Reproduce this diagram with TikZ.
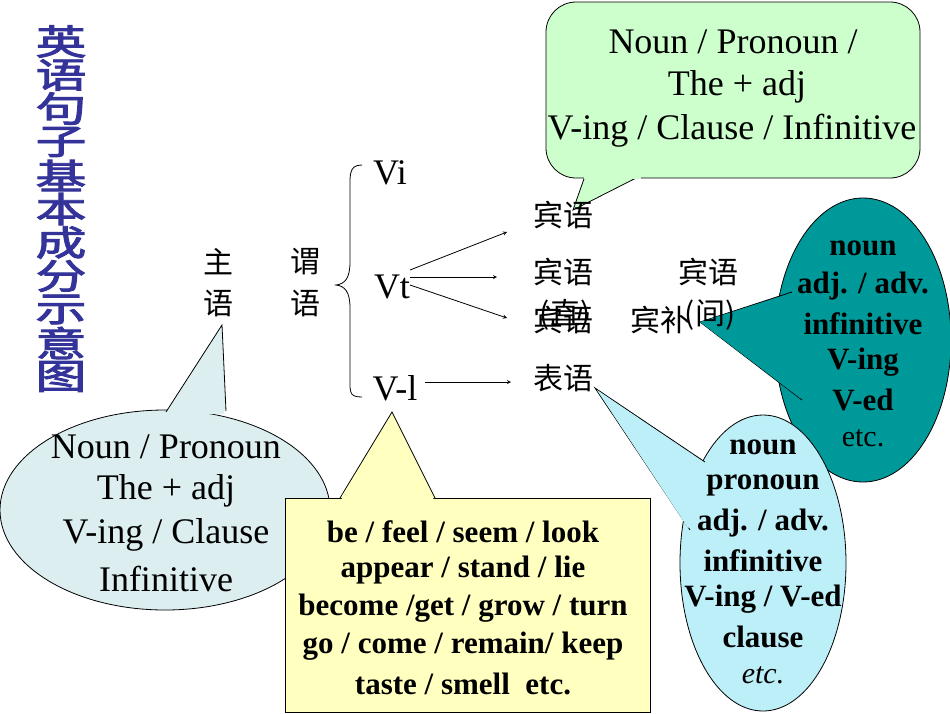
\documentclass[tikz,border=0pt]{standalone}
\usepackage{fontspec}
\setmainfont{Liberation Serif}
\newfontfamily\cjk{Noto Sans CJK SC}
\newfontfamily\cjkb[FakeBold=2.5]{Noto Sans CJK SC}
\definecolor{tgreen}{HTML}{CCFFCC}
\definecolor{tteal}{HTML}{009999}
\definecolor{tcyan}{HTML}{BDEFF9}
\definecolor{tgrey}{HTML}{DCEEF0}
\definecolor{tyel}{HTML}{FFFFC0}
\definecolor{tblue}{HTML}{333399}
\tikzset{txt/.style={inner sep=0pt,font=\fontsize{36}{36}\selectfont},
 btxt/.style={inner sep=0pt,font=\fontsize{31}{31}\selectfont\bfseries},
 zh/.style={inner sep=0pt,font=\fontsize{30}{30}\selectfont\cjk},
 arr/.style={-stealth,line width=0.8pt}}
\begin{document}
\begin{tikzpicture}[x=1pt,y=-1pt,line width=0.8pt]
\useasboundingbox (0,0) rectangle (950,713);
% title
\foreach \c [count=\i] in {英,语,句,子,基,本,成,分,示,意,图}
  \node[inner sep=0pt,text=tblue,xscale=1.45,font=\fontsize{35}{35}\selectfont\cjkb] (t\i) at (61,{8+\i*33.5}) {\c};
% green callout
\draw[fill=tgreen,rounded corners=30pt] (546,2) rectangle (920,178);
\filldraw[fill=tgreen] (585,176) -- (573,210) -- (640,176);
\fill[tgreen] (584,170) rectangle (641,178.5);
\node[txt] (g1) at (733,42) {Noun / Pronoun /};
\node[txt] (g2) at (737,87) {The + adj};
\node[txt] (g3) at (732,131) {V-ing / Clause / Infinitive};
% teal
\filldraw[fill=tteal] (863,340) ellipse [x radius=88,y radius=142];
\filldraw[fill=tteal] (792,292) -- (700,322) -- (802,400);
\fill[tteal] (790,294) -- (700,322) -- (800,398) -- (810,340) -- cycle;
\foreach \t/\y in {{noun}/248,{adj. / adv.}/286,{infinitive}/324,{V-ing}/362,{V-ed}/400}
  \node[btxt] at (863,\y) {\t};
\node[inner sep=0pt,font=\fontsize{30}{30}\selectfont] at (863,438) {etc.};
% cyan
\filldraw[fill=tcyan] (763,563) ellipse [x radius=83,y radius=148];
\filldraw[fill=tcyan] (705,462) -- (595,388) -- (690,530);
\fill[tcyan] (705,464) -- (597,390) -- (688,528) -- (720,500) -- cycle;
\foreach \t/\y in {{noun}/447,{pronoun}/485,{adj. / adv.}/523,{infinitive}/561,{V-ing / V-ed}/599,{clause}/637}
  \node[btxt] at (763,\y) {\t};
\node[inner sep=0pt,font=\fontsize{30}{30}\selectfont\itshape] at (763,675) {etc.};
% left grey
\filldraw[fill=tgrey] (165,510) ellipse [x radius=165,y radius=100];
\filldraw[fill=tgrey] (166,412) -- (222,325) -- (226,411);
\fill[tgrey] (168,414) -- (221,330) -- (224,414) -- cycle;
\node[txt] (l1) at (166,447) {Noun / Pronoun};
\node[txt] (l2) at (166,491) {The + adj};
\node[txt] (l3) at (166,535) {V-ing / Clause};
\node[txt] (l4) at (166,579) {Infinitive};
% yellow
\filldraw[fill=tyel] (285,498) rectangle (650,712);
\filldraw[fill=tyel] (340,498) -- (392,412) -- (435,498);
\fill[tyel] (342,496) -- (392,416) -- (433,496) -- (433,499.5) -- (342,499.5) -- cycle;
\foreach \t/\y in {{be / feel / seem / look}/532,{appear / stand / lie}/570,{become /get / grow / turn}/608,{go / come / remain/ keep}/646,{taste / smell\ \ etc.}/684}
  \node[btxt] at (463,\y) {\t};
% main labels
\node[zh] (s1) at (218,262) {主};
\node[zh] (s2) at (218,303) {语};
\node[zh] (p1) at (305,262) {谓};
\node[zh] (p2) at (305,303) {语};
\node[txt] (vi) at (390,173) {Vi};
\node[txt] (vt) at (392,287) {Vt};
\node[txt] (vl) at (395,388) {V-l};
\draw[line width=0.8pt] (362,165) .. controls (348,165) and (350,175) .. (350,200) -- (350,262) .. controls (350,278) and (345,284) .. (336,285)
 .. controls (345,286) and (350,292) .. (350,308) -- (350,370) .. controls (350,392) and (348,397) .. (362,397);
\node[zh] (o1) at (563,215) {宾语};
\node[zh] (o2) at (563,272) {宾语};
\node[zh] (o3) at (563,320) {宾语};
\node[zh] (zhi) at (565,315) {(直)};
\node[zh] (o4) at (708,272) {宾语};
\node[zh] (jian) at (710,315) {(间)};
\node[zh] (bb) at (660,320) {宾补};
\node[zh] (by) at (563,378) {表语};
\coordinate (vs) at (410,277);
\coordinate (vle) at (425,382);
\draw[arr] (410,270) -- (507,232);
\draw[arr] (vs) -- (497,277);
\draw[arr] (410,285) -- (507,318);
\draw[arr] (vle) -- (511,382);
\end{tikzpicture}
\end{document}
